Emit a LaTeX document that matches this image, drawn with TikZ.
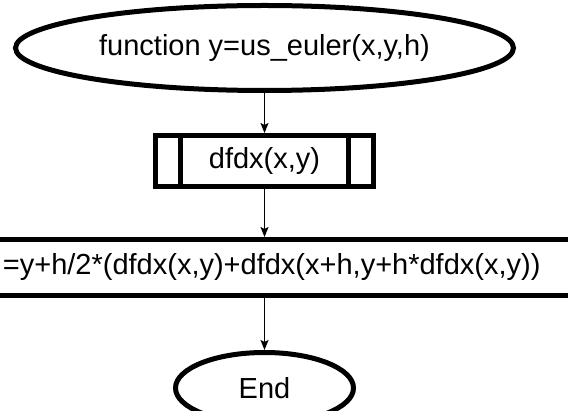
\documentclass[tikz,border=0pt]{standalone}
\usepackage{fontspec}
\setmainfont{Liberation Sans}
\usepackage{tikz}
\usetikzlibrary{arrows.meta,%
                shapes,positioning}

\tikzset{
  terminal/.style={draw, ultra thick, line width=5pt, ellipse, inner sep=0pt},
  procbox/.style={draw, line width=5pt, rectangle, inner sep=0pt},
  flow/.style={line width=1.5pt, -{Stealth[length=10pt,width=8pt,inset=2pt]}}
}

\begin{document}
\begin{tikzpicture}[x=1pt,y=-1pt,font=\fontsize{29}{34}\selectfont]
\useasboundingbox (0,0) rectangle (568,411);
\clip (0,0) rectangle (568,411);

\node[terminal, minimum width=498pt, minimum height=85pt] (start) at (264.5,48) {function y=us\_euler(x,y,h)};

\node[procbox, minimum width=218pt, minimum height=51pt] (dfdx) at (264.5,161) {dfdx(x,y)};
\draw[line width=5pt] ([xshift=27.5pt]dfdx.north west) -- ([xshift=27.5pt]dfdx.south west);
\draw[line width=5pt] ([xshift=-27.5pt]dfdx.north east) -- ([xshift=-27.5pt]dfdx.south east);

\node[procbox, minimum width=640pt, minimum height=56pt] (calc) at (271.7,267.5) {=y+h/2*(dfdx(x,y)+dfdx(x+h,y+h*dfdx(x,y))};

\node[terminal, minimum width=178pt, minimum height=71pt] (stop) at (264.5,388) {End};

\draw[flow] (start) -- (dfdx);
\draw[flow] (dfdx.south) -- (dfdx.south |- calc.north);
\draw[flow] (dfdx.south |- calc.south) -- (stop);
\end{tikzpicture}
\end{document}
